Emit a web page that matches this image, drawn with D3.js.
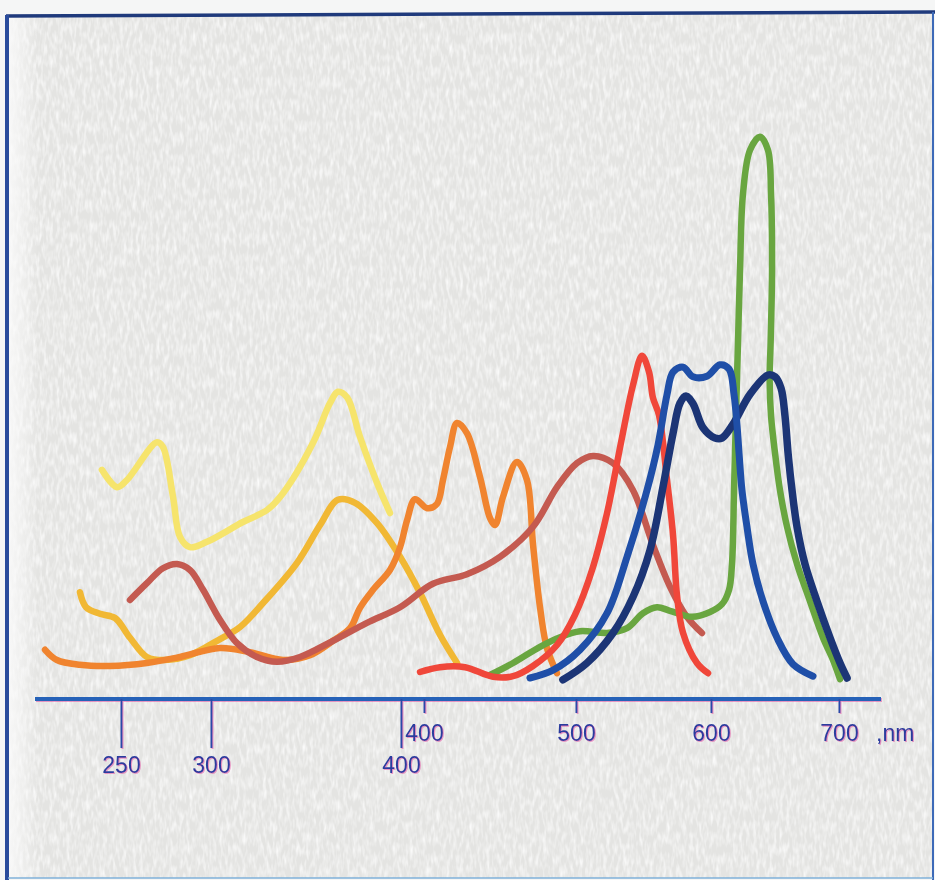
<!DOCTYPE html>
<meta charset="utf-8">
<html>
<head>
<style>
  html, body { margin: 0; padding: 0; background: #f5f6f6; }
  svg { display: block; }
  .tick text { font-family: "Liberation Sans", Arial, sans-serif; font-size: 23px; fill: #2a3c9e; }
</style>
</head>
<body>
<div id="chart"></div>

<script src="https://d3js.org/d3.v7.min.js"></script>
<script>
  // tick labels of the two wavelength rows
  var uvTicks = [250, 300, 400];
  var visTicks = [400, 500, 600, 700];
  var unitLabel = ",nm";

  // spectra: wavelength (nm) and relative absorbance
  var paleYellowNm = [239.4, 247.8, 253.3, 270, 273.3, 278.9, 282.8, 288.3, 297.8, 316.8, 329.5, 337.9, 353.7, 362.6, 366.8, 371.6, 378.4, 387.4, 394.2];
  var paleYellowA  = [38.2, 35.3, 36.5, 42.8, 42, 33.7, 27, 25.3, 26.2, 29.5, 31.5, 34.3, 42.7, 49.3, 51.2, 50.3, 43.7, 36, 31];

  var goldNm = [227.2, 230.6, 238.3, 246.7, 255, 264.4, 274.4, 288.3, 303.2, 315.3, 327.4, 345.3, 357.4, 366.8, 375.8, 387.4, 399.5, 410, 420.5, 429.5];
  var goldA  = [17.8, 15.3, 14.2, 13.5, 10.2, 7, 6.5, 7.3, 9.7, 12, 16, 22.7, 29, 33.2, 32.7, 29.3, 23.7, 17.7, 10.7, 6];

  var orangeNm = [207.8, 214.4, 227.2, 243.9, 264.4, 282.8, 304.7, 320.5, 337.9, 352.1, 364.2, 373.2, 378.4, 385.3, 394.2, 399.5, 403.2, 407.4, 413.7, 418.9, 422.1, 425.8, 429.5, 434.7, 441.6, 446.8, 449.5, 453.7, 461, 466.3, 469.5, 473.2, 476.8, 482.1];
  var orangeA  = [8.2, 6.5, 5.7, 5.5, 6, 7, 8.5, 7.8, 6.5, 7.3, 9.7, 11.8, 15.2, 18.2, 21.5, 25.3, 29.8, 33.3, 31.8, 32.5, 36.5, 42, 46, 44.3, 37, 30.2, 29, 33.7, 39.5, 36.5, 25.7, 15.2, 8.5, 4.3];

  var mauveNm = [255, 264.4, 273.3, 281.1, 288.3, 295.6, 304.7, 313.7, 324.2, 334.7, 346.8, 364.2, 382.1, 399.5, 416.8, 434.7, 452.1, 469.5, 482.1, 492.6, 501, 511.6, 522.1, 532.6, 541.6, 550.5, 558.4];
  var mauveA  = [16.5, 19.3, 21.8, 22.5, 21.5, 18.2, 13.2, 9.3, 7, 6.2, 7, 9.7, 12.7, 15.3, 19.2, 20.8, 23.7, 28.7, 35.3, 39.3, 40.5, 39.3, 34.8, 25.7, 18.7, 13.7, 11];

  var greenNm = [443.4, 458.6, 476.3, 489.5, 503, 523, 537.8, 549.6, 560, 569.6, 585.9, 599.3, 608.6, 614.1, 616.4, 618, 619.5, 621.1, 622.7, 625, 630.5, 638.3, 644.5, 646.9, 647.7, 646.6, 645.8, 646.9, 650, 653.9, 659.4, 667.2, 677.3, 687.5, 695.3, 700.8];
  var greenA  = [4, 6, 8.7, 10.3, 11.3, 11, 11.8, 14.3, 15.3, 14.7, 13.7, 14.5, 15.8, 18.2, 22.5, 34.8, 47.2, 59.5, 71.8, 84.2, 91.5, 93.7, 91.5, 84.2, 71.8, 59.5, 53.3, 47.2, 41, 34.8, 28.7, 22.5, 16.3, 10.2, 6.5, 3.3];

  var redNm = [397.4, 410.5, 427, 445.4, 458.6, 471.7, 487.5, 499.3, 511.9, 523, 533.3, 542.2, 548.9, 554.1, 557, 561.5, 567.4, 571.9, 574.8, 579.3, 589.6, 597.8];
  var redA  = [4.5, 5.3, 5.3, 3.7, 3.8, 5.5, 9, 14, 21.5, 31, 42.7, 52.3, 57.2, 54.5, 50.2, 47.3, 36.5, 27.3, 17.3, 11, 6, 4.3];

  var navyNm = [491.4, 508.1, 527.4, 542.2, 554.8, 564.4, 571.9, 577, 581.5, 586.7, 594.1, 603.1, 608.6, 617.2, 630.5, 644.5, 650, 654.7, 657.8, 660.2, 663.3, 667.2, 673.4, 682.8, 693, 700.8, 706.3];
  var navyA  = [3.2, 6, 11, 17, 24.8, 35.3, 44.3, 49.3, 50.5, 49.2, 45.2, 43.5, 43.5, 45.8, 50.8, 54, 53.7, 51.8, 47.2, 41, 34.8, 28.7, 22.5, 16.3, 10.2, 6, 3.5];

  var blueNm = [469.7, 484.9, 503, 523, 537.8, 552.6, 560.7, 567.4, 571.9, 579.3, 586.7, 597, 607, 614.1, 618, 620.3, 621.9, 624.2, 628.1, 632.8, 640.6, 651.6, 664.1, 679.7];
  var blueA  = [3.5, 4.8, 8.2, 14.3, 23.7, 34.8, 42.3, 50.7, 54.5, 55.3, 53.7, 53.8, 55.7, 55, 50.7, 45.7, 41, 34.8, 28.7, 22.5, 16.3, 10.2, 5.8, 3.8];

  var width = 935, height = 880;
  var axisY = 699;

  var svg = d3.select("#chart")
    .append("svg")
      .attr("width", width)
      .attr("height", height);

  var defs = svg.append("defs");

  // grainy paper look of the scan
  var paper = defs.append("filter").attr("id", "paper")
    .attr("x", 0).attr("y", 0).attr("width", "100%").attr("height", "100%");
  paper.append("feTurbulence")
    .attr("type", "fractalNoise").attr("baseFrequency", "0.3 0.09")
    .attr("numOctaves", 2).attr("seed", 7);
  paper.append("feColorMatrix")
    .attr("type", "matrix")
    .attr("values", "0 0 0 0 1  0 0 0 0 1  0 0 0 0 1  1.6 0 0 0 -0.62");

  // faint magenta misregistration under the blue print
  var fringe = defs.append("filter").attr("id", "fringe")
    .attr("x", "-5%").attr("y", "-20%").attr("width", "110%").attr("height", "140%");
  fringe.append("feOffset").attr("in", "SourceAlpha").attr("dx", 0.5).attr("dy", 1).attr("result", "off");
  fringe.append("feFlood").attr("flood-color", "#e0439c").attr("flood-opacity", 0.5);
  fringe.append("feComposite").attr("in2", "off").attr("operator", "in").attr("result", "mag");
  var merge = fringe.append("feMerge");
  merge.append("feMergeNode").attr("in", "mag");
  merge.append("feMergeNode").attr("in", "SourceGraphic");

  var edge = defs.append("linearGradient").attr("id", "edge");
  edge.append("stop").attr("offset", "0%").attr("stop-color", "#fafafa").attr("stop-opacity", 0.9);
  edge.append("stop").attr("offset", "100%").attr("stop-color", "#fafafa").attr("stop-opacity", 0);

  // background panel
  svg.append("rect")
    .attr("x", 8).attr("y", 14).attr("width", 924).attr("height", 864)
    .attr("fill", "#e4e4e2");
  svg.append("rect")
    .attr("x", 8).attr("y", 14).attr("width", 924).attr("height", 864)
    .attr("filter", "url(#paper)");
  svg.append("rect")
    .attr("x", 8).attr("y", 14).attr("width", 30).attr("height", 864)
    .attr("fill", "url(#edge)");

  // frame
  svg.append("line").attr("x1", 6).attr("y1", 16).attr("x2", 935).attr("y2", 12)
    .attr("stroke", "#1f3a7c").attr("stroke-width", 3.5);
  svg.append("line").attr("x1", 7).attr("y1", 15).attr("x2", 7).attr("y2", 880)
    .attr("stroke", "#2a4c9c").attr("stroke-width", 4);
  svg.append("line").attr("x1", 933).attr("y1", 12).attr("x2", 933).attr("y2", 880)
    .attr("stroke", "#3d6ab8").attr("stroke-width", 2);
  svg.append("line").attr("x1", 8).attr("y1", 878).attr("x2", 933).attr("y2", 878)
    .attr("stroke", "#7fb0d8").attr("stroke-width", 1.5);

  // scales: two wavelength rows share the baseline
  var xUV = d3.scaleLinear().domain(uvTicks).range([121, 211, 401]);
  var xVis = d3.scaleLinear().domain(visTicks).range([424, 576, 711, 839]);
  var y = d3.scaleLinear().domain([0, 100]).range([axisY, 99]);

  var series = [
    { nm: paleYellowNm, a: paleYellowA, x: xUV,  color: "#f6e46c", w: 6.5 },
    { nm: goldNm,       a: goldA,       x: xUV,  color: "#f1b834", w: 6.5 },
    { nm: orangeNm,     a: orangeA,     x: xUV,  color: "#f0842f", w: 6.5 },
    { nm: mauveNm,      a: mauveA,      x: xUV,  color: "#c45a50", w: 6.5 },
    { nm: greenNm,      a: greenA,      x: xVis, color: "#69a640", w: 6.5 },
    { nm: redNm,        a: redA,        x: xVis, color: "#f0473a", w: 6.5 },
    { nm: navyNm,       a: navyA,       x: xVis, color: "#1c3576", w: 7.5 },
    { nm: blueNm,       a: blueA,       x: xVis, color: "#1f4fa8", w: 7 }
  ];

  var axes = svg.append("g").attr("filter", "url(#fringe)");

  // baseline
  axes.append("line")
    .attr("x1", 35).attr("x2", 881)
    .attr("y1", axisY).attr("y2", axisY)
    .attr("stroke", "#2862b8").attr("stroke-width", 4);

  var lower = axes.append("g")
    .attr("transform", "translate(0," + axisY + ")")
    .call(d3.axisBottom(xUV).tickValues(uvTicks).tickSize(49).tickPadding(9).tickSizeOuter(0));

  var upper = axes.append("g")
    .attr("transform", "translate(0," + axisY + ")")
    .call(d3.axisBottom(xVis).tickValues(visTicks).tickSize(14).tickPadding(12).tickSizeOuter(0));

  [lower, upper].forEach(function(g) {
    g.select(".domain").remove();
    g.selectAll(".tick line").attr("stroke", "#2a48a8").attr("stroke-width", 2);
  });

  upper.append("text")
    .attr("x", xVis(700) + 37)
    .attr("y", 26)
    .attr("dy", "0.71em")
    .attr("text-anchor", "start")
    .style("font-family", "\"Liberation Sans\", Arial, sans-serif")
    .style("font-size", "23px")
    .attr("fill", "#2a3c9e")
    .text(unitLabel);

  // spectra
  series.forEach(function(s) {
    var pts = s.nm.map(function(w, i) { return { w: w, a: s.a[i] }; });
    svg.append("path")
      .datum(pts)
      .attr("fill", "none")
      .attr("stroke", s.color)
      .attr("stroke-width", s.w)
      .attr("stroke-linecap", "round")
      .attr("stroke-linejoin", "round")
      .attr("d", d3.line()
        .curve(d3.curveCatmullRom.alpha(0.5))
        .x(function(d) { return s.x(d.w); })
        .y(function(d) { return y(d.a); }));
  });
</script>
</body>
</html>
